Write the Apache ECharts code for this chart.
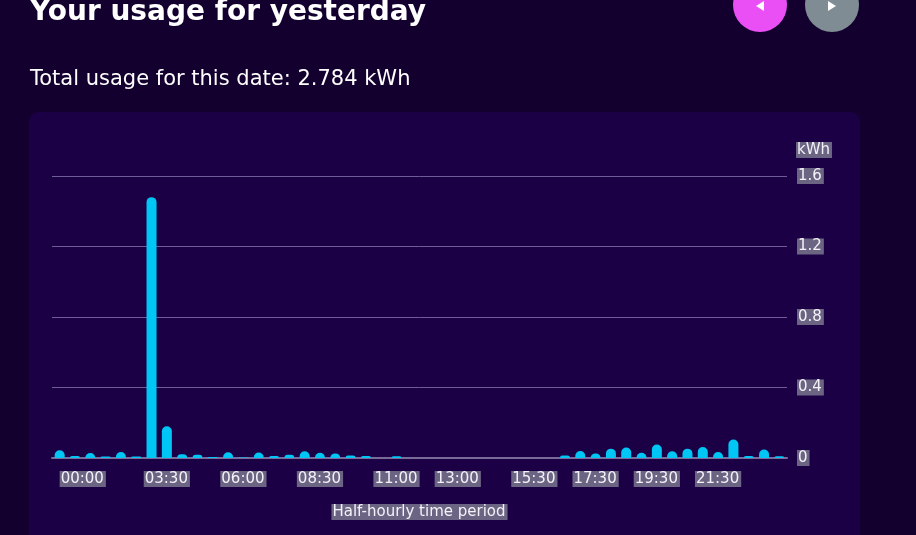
<!DOCTYPE html>
<html>
<head>
<meta charset="utf-8">
<script src="https://cdn.jsdelivr.net/npm/echarts@6/dist/echarts.min.js"></script>
<style>
  html, body { margin: 0; padding: 0; background: #14002f; }
  #main { width: 916px; height: 535px; }
</style>
</head>
<body>
<div id="main"></div>
<script>
// half-hourly slots 00:00 .. 23:30
var slots = [];
for (var h = 0; h < 24; h++) {
  slots.push((h < 10 ? '0' : '') + h + ':00');
  slots.push((h < 10 ? '0' : '') + h + ':30');
}
var usage = [
  0.044, 0.011, 0.028, 0.008, 0.034, 0.008, 1.48, 0.18, 0.021, 0.019, 0.005, 0.033,
  0.003, 0.031, 0.011, 0.019, 0.038, 0.030, 0.026, 0.014, 0.011, 0, 0.010, 0,
  0, 0, 0, 0, 0, 0, 0, 0, 0, 0.014, 0.040, 0.026,
  0.053, 0.059, 0.030, 0.076, 0.038, 0.053, 0.062, 0.034, 0.105, 0.012, 0.048, 0.010
];
var shownLabels = ['00:00', '03:30', '06:00', '08:30', '11:00', '13:00', '15:30', '17:30', '19:30', '21:30'];
var totalText = 'Total usage for this date: 2.784 kWh';

var labelBox = {
  color: '#f4f2f8',
  backgroundColor: '#6b6482',
  padding: [1, 2, 0, 1],
  fontFamily: 'DejaVu Sans',
  fontSize: 15
};

var chart = echarts.init(document.getElementById('main'));

var option = {
  backgroundColor: '#14002f',
  animation: false,
  title: [
    {
      text: 'Your usage for yesterday',
      left: 30, top: -1, padding: 0,
      textStyle: { color: '#ffffff', fontFamily: 'DejaVu Sans', fontWeight: 'bold', fontSize: 28 }
    },
    {
      text: totalText,
      left: 30, top: 69, padding: 0,
      textStyle: { color: '#ffffff', fontFamily: 'DejaVu Sans', fontWeight: 'normal', fontSize: 21 }
    }
  ],
  graphic: [
    { type: 'rect', z: -10, shape: { x: 29, y: 112, width: 831, height: 460, r: 10 }, style: { fill: '#1c0046' } },
    { type: 'circle', shape: { cx: 760, cy: 5, r: 27 }, style: { fill: '#e94ff5' } },
    { type: 'polygon', shape: { points: [[756, 6], [764, 1], [764, 11]] }, style: { fill: '#ffffff' } },
    { type: 'circle', shape: { cx: 832, cy: 5, r: 27 }, style: { fill: '#7f8c93' } },
    { type: 'polygon', shape: { points: [[836, 6], [828, 1], [828, 11]] }, style: { fill: '#ffffff' } }
  ],
  grid: { left: 52, right: 129, top: 176, bottom: 77 },
  xAxis: {
    type: 'category',
    data: slots,
    name: 'Half-hourly time period',
    nameLocation: 'middle',
    nameGap: 46,
    nameTextStyle: labelBox,
    axisLine: { lineStyle: { color: '#7a6a9a', width: 2 } },
    axisTick: {
      alignWithLabel: true,
      length: 7,
      interval: function (i, v) { return shownLabels.indexOf(v) >= 0; },
      lineStyle: { color: '#7a6a9a', width: 2 }
    },
    axisLabel: Object.assign({
      margin: 13,
      alignMinLabel: 'left',
      interval: function (i, v) { return shownLabels.indexOf(v) >= 0; }
    }, labelBox)
  },
  yAxis: {
    type: 'value',
    position: 'right',
    min: 0, max: 1.6, interval: 0.4,
    name: '{u|kWh}',
    nameGap: 18,
    nameTextStyle: {
      align: 'left',
      padding: [0, 0, 0, 9],
      rich: { u: labelBox }
    },
    axisLine: { show: false },
    axisTick: { show: false },
    axisLabel: Object.assign({ margin: 10 }, labelBox),
    splitLine: { lineStyle: { color: '#6f5c98', width: 1 } }
  },
  series: [
    {
      type: 'bar',
      data: usage,
      barWidth: 10,
      itemStyle: { color: '#00c6f6', borderRadius: [5, 5, 0, 0] }
    }
  ]
};

chart.setOption(option);
</script>
</body>
</html>
